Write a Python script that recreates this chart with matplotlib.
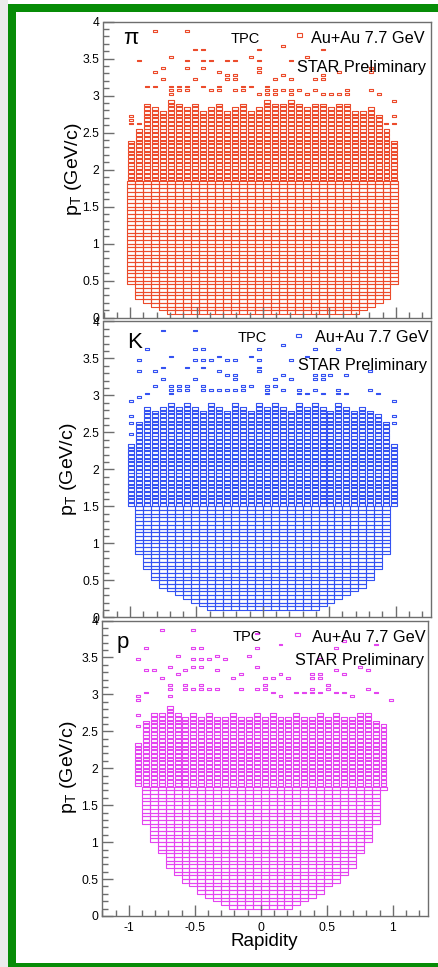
import numpy as np
import matplotlib
matplotlib.use("Agg")
import matplotlib.pyplot as plt
from matplotlib.patches import Rectangle
from matplotlib.collections import PatchCollection
from matplotlib.ticker import MultipleLocator, FuncFormatter

plt.rcParams["font.family"] = ["Liberation Sans", "DejaVu Sans"]
plt.rcParams["mathtext.fontset"] = "custom"
plt.rcParams["mathtext.rm"] = "Liberation Sans"

# ---------------- binning ----------------
Y_FIRST_EDGE = -1.02          # rapidity, 34 bins of 0.06
Y_BIN = 0.06
PT_BIN = 0.05                 # pT bins of 0.05 GeV/c
N_COL = 34

# ---------------- pions ----------------
pi_lo = [0.45, 0.25, 0.20, 0.15, 0.10, 0.05, 0.05, 0.05, 0.05, 0.05, 0.05, 0.05,
         0.05, 0.05, 0.05, 0.05, 0.05, 0.05, 0.05, 0.05, 0.05, 0.05, 0.05, 0.05,
         0.05, 0.05, 0.05, 0.05, 0.05, 0.10, 0.15, 0.20, 0.25, 0.45]
pi_top = [2.40, 2.55, 2.90, 2.85, 2.80, 2.95, 2.90, 2.85, 2.90, 2.80, 2.85, 2.90,
          2.80, 2.85, 2.90, 2.80, 2.85, 2.95, 2.90, 2.90, 2.95, 2.90, 2.85, 2.90,
          2.90, 2.85, 2.90, 2.90, 2.80, 2.80, 2.85, 2.75, 2.55, 2.40]
pi_core_top = 1.85
pi_sparse_col = [3, 7, 8, 9, 16, 19, 24, 22,
                 1, 5, 7, 7, 9, 9, 10, 12, 13, 15, 16, 16, 16, 20,
                 3, 4, 11, 12, 12, 13, 13, 19, 20, 23, 24, 24, 26, 30, 30,
                 2, 3, 4, 5, 5, 5, 6, 6, 7, 7, 8, 9, 10, 11, 11, 13, 14, 14, 15, 16,
                 17, 17, 17, 18, 18, 18, 19, 20, 20, 21, 22, 23, 24, 25, 26, 27, 27, 30, 31,
                 0, 0, 0, 1, 33, 33, 33, 32]
pi_sparse_pt = [3.87, 3.87, 3.63, 3.63, 3.63, 3.69, 3.63, 3.52,
                3.45, 3.52, 3.45, 3.39, 3.45, 3.39, 3.45, 3.45, 3.45, 3.52, 3.45, 3.39, 3.34, 3.45,
                3.33, 3.39, 3.33, 3.27, 3.21, 3.27, 3.21, 3.27, 3.21, 3.21, 3.27, 3.21, 3.33, 3.39, 3.33,
                3.15, 3.15, 3.21, 3.15, 3.08, 3.02, 3.15, 3.08, 3.15, 3.08, 3.21, 3.15, 3.08, 3.15, 3.08,
                3.08, 3.15, 3.08, 3.15, 3.02,
                3.15, 3.08, 3.02, 3.21, 3.08, 3.02, 3.08, 3.08, 3.02, 3.08, 3.02, 3.08, 3.02, 3.02, 3.02,
                3.08, 3.02, 3.08, 3.02,
                2.62, 2.68, 2.74, 2.62, 2.62, 2.72, 2.92, 2.62]

# ---------------- kaons ----------------
k_lo = [1.50, 0.85, 0.65, 0.50, 0.40, 0.35, 0.30, 0.25, 0.20, 0.15, 0.10, 0.10,
        0.10, 0.10, 0.10, 0.10, 0.10, 0.10, 0.10, 0.10, 0.10, 0.10, 0.10, 0.10,
        0.15, 0.20, 0.25, 0.30, 0.35, 0.40, 0.50, 0.65, 0.85, 1.50]
k_top = [2.35, 2.65, 2.85, 2.80, 2.85, 2.90, 2.85, 2.90, 2.85, 2.80, 2.90, 2.85,
         2.80, 2.90, 2.85, 2.80, 2.90, 2.85, 2.90, 2.85, 2.80, 2.90, 2.85, 2.90,
         2.85, 2.80, 2.90, 2.85, 2.80, 2.85, 2.80, 2.75, 2.65, 2.35]
k_core_top = 1.50
k_sparse_col = [4, 8, 2, 8, 9, 16, 19, 23, 26, 22,
                1, 5, 8, 9, 10, 11, 12, 13, 15, 16, 16, 16, 20,
                1, 3, 4, 7, 9, 11, 12, 13, 13, 18, 19, 20, 23, 23, 24, 24, 25, 27, 30,
                3, 4, 5, 5, 5, 6, 6, 7, 7, 8, 9, 9, 10, 11, 12, 13, 14, 14, 15, 17, 17, 17,
                18, 19, 21, 21, 22, 23, 24, 26, 26, 27, 30, 31,
                0, 1, 2, 0, 0, 0, 33, 33, 33]
k_sparse_pt = [3.87, 3.87, 3.63, 3.63, 3.63, 3.63, 3.69, 3.63, 3.63, 3.52,
               3.45, 3.52, 3.45, 3.45, 3.45, 3.52, 3.45, 3.45, 3.52, 3.45, 3.39, 3.33, 3.45,
               3.33, 3.33, 3.39, 3.39, 3.39, 3.33, 3.27, 3.27, 3.21, 3.21, 3.27, 3.21, 3.27, 3.21,
               3.27, 3.21, 3.27, 3.27, 3.33,
               3.15, 3.21, 3.15, 3.08, 3.02, 3.15, 3.08, 3.15, 3.08, 3.21, 3.15, 3.08, 3.08, 3.08,
               3.08, 3.08, 3.15, 3.08, 3.15, 3.15, 3.08, 3.02,
               3.15, 3.08, 3.08, 3.02, 3.02, 3.08, 3.02, 3.08, 3.02, 3.02, 3.08, 3.02,
               2.92, 2.96, 3.03, 2.47, 2.62, 2.72, 2.62, 2.72, 2.92]

# ---------------- protons ----------------
p_lo = [np.nan, 1.75, 1.25, 1.00, 0.85, 0.65, 0.55, 0.45, 0.40, 0.30, 0.25, 0.20,
        0.15, 0.10, 0.10, 0.10, 0.10, 0.10, 0.10, 0.10, 0.10, 0.15, 0.20, 0.25,
        0.30, 0.40, 0.45, 0.55, 0.65, 0.85, 1.00, 1.25, 1.70, np.nan]
p_top = [np.nan, 2.35, 2.65, 2.75, 2.75, 2.85, 2.75, 2.70, 2.75, 2.70, 2.75, 2.70,
         2.70, 2.75, 2.70, 2.70, 2.75, 2.70, 2.75, 2.70, 2.70, 2.75, 2.70, 2.70,
         2.75, 2.70, 2.75, 2.70, 2.70, 2.75, 2.75, 2.65, 2.60, np.nan]
p_core_top = 1.75
p_sparse_col = [4, 8, 16, 19, 27, 31,
                2, 8, 9, 16, 26,
                1, 5, 6, 8, 8, 9, 9, 10, 11, 12, 15, 16, 24, 29,
                2, 3, 6, 7, 11, 14, 19, 23, 23, 24, 24, 26, 27, 30,
                4, 5, 5, 7, 7, 8, 9, 9, 10, 11, 13, 14, 16, 17, 17, 17, 18, 20, 23, 25, 25, 30,
                1, 1, 1, 1, 2, 5, 18, 19, 21, 22, 23, 24, 26, 27, 28, 31, 33]
p_sparse_pt = [3.86, 3.86, 3.81, 3.68, 3.74, 3.68,
               3.63, 3.63, 3.63, 3.63, 3.63,
               3.45, 3.38, 3.50, 3.45, 3.38, 3.45, 3.38, 3.45, 3.50, 3.45, 3.50, 3.38, 3.45, 3.38,
               3.32, 3.32, 3.26, 3.32, 3.32, 3.27, 3.27, 3.27, 3.20, 3.27, 3.20, 3.32, 3.27, 3.32,
               3.20, 3.14, 3.09, 3.14, 3.09, 3.09, 3.14, 3.09, 3.09, 3.09, 3.20, 3.09, 3.09,
               3.20, 3.14, 3.09, 3.20, 3.20, 3.09, 3.14, 3.09, 3.09,
               2.58, 2.74, 2.91, 2.96, 3.03, 2.96, 3.03, 2.96, 3.03, 3.03, 3.03, 3.03, 3.03, 3.03,
               2.96, 3.03, 2.91]

# ---------------- panel layout (figure pixels) ----------------
W, H = 439, 967
fig = plt.figure(figsize=(W / 100, H / 100), dpi=100)


def fx(x):
    return x / W


def fy(y):
    return 1 - y / H


def add_axes_px(left, top, right, bottom):
    return fig.add_axes([fx(left), fy(bottom), (right - left) / W, (bottom - top) / H])


def fill_counts(lo, top, core_top, sp_col, sp_pt):
    """Build a (column, pT-bin) count map: 4 = core, 3 = upper band, 2 = isolated."""
    counts = np.zeros((N_COL, 80), dtype=int)
    for c in range(N_COL):
        if np.isnan(lo[c]):
            continue
        j0 = int(round(lo[c] / PT_BIN))
        j1 = int(round(top[c] / PT_BIN))
        for j in range(j0, j1):
            counts[c, j] = 4 if (j + 0.5) * PT_BIN < core_top else 3
    for c, pt in zip(sp_col, sp_pt):
        j = int(np.floor(pt / PT_BIN))
        if counts[c, j] == 0:
            counts[c, j] = 2
    return counts


def draw_boxes(ax, counts, color):
    boxes = []
    cmax = counts.max()
    for c in range(N_COL):
        for j in range(counts.shape[1]):
            n = counts[c, j]
            if n == 0:
                continue
            s = n / cmax
            xc = Y_FIRST_EDGE + (c + 0.5) * Y_BIN
            yc = (j + 0.5) * PT_BIN
            w, h = s * Y_BIN, s * PT_BIN
            boxes.append(Rectangle((xc - w / 2, yc - h / 2), w, h))
    pc = PatchCollection(boxes, facecolor="none", edgecolor=color, linewidths=0.8)
    ax.add_collection(pc)


def style_axes(ax, show_x):
    ax.set_xlim(-1.2, 1.265)
    ax.set_ylim(0, 4)
    ax.xaxis.set_major_locator(MultipleLocator(0.5))
    ax.xaxis.set_minor_locator(MultipleLocator(0.1))
    ax.yaxis.set_major_locator(MultipleLocator(0.5))
    ax.yaxis.set_minor_locator(MultipleLocator(0.1))
    fmt = FuncFormatter(lambda v, p: "%g" % v)
    ax.xaxis.set_major_formatter(fmt)
    ax.yaxis.set_major_formatter(fmt)
    ax.tick_params(which="both", direction="in", top=False, right=False,
                   color="#6e6e6e", width=1.0, labelsize=8.7, labelcolor="black")
    ax.tick_params(which="major", length=8, pad=3)
    ax.tick_params(which="minor", length=4)
    ax.tick_params(axis="x", labelbottom=show_x, pad=4)
    for sp in ax.spines.values():
        sp.set_color("#6e6e6e")
        sp.set_linewidth(1.0)


panels = [
    dict(rect=(103.5, 21.7, 431.0, 317.7), lo=pi_lo, top=pi_top, core=pi_core_top,
         sc=pi_sparse_col, sp=pi_sparse_pt, color="#ec4b2b", name="\u03c0",
         name_xy=(123, 43.5), tpc_xy=(245.5, 42.7), mark_xy=(299.5, 35.0),
         au_xy=(311, 42.7), star_xy=(297, 71.7), ylab_xy=(73.5, 169), show_x=False),
    dict(rect=(103.5, 321.3, 430.7, 617.3), lo=k_lo, top=k_top, core=k_core_top,
         sc=k_sparse_col, sp=k_sparse_pt, color="#3452f2", name="K",
         name_xy=(127, 348), tpc_xy=(252.5, 341.7), mark_xy=(298.5, 335.7),
         au_xy=(315, 341.7), star_xy=(298, 370), ylab_xy=(68.5, 469), show_x=False),
    dict(rect=(102.3, 620.5, 427.7, 916.0), lo=p_lo, top=p_top, core=p_core_top,
         sc=p_sparse_col, sp=p_sparse_pt, color="#e444f0", name="p",
         name_xy=(117, 648), tpc_xy=(247.5, 640.7), mark_xy=(297.5, 634.0),
         au_xy=(312, 641.5), star_xy=(295, 665), ylab_xy=(68.5, 767), show_x=True),
]

for P in panels:
    ax = add_axes_px(*P["rect"])
    style_axes(ax, P["show_x"])
    counts = fill_counts(P["lo"], P["top"], P["core"], P["sc"], P["sp"])
    draw_boxes(ax, counts, P["color"])

    fig.text(fx(P["name_xy"][0]), fy(P["name_xy"][1]), P["name"], fontsize=16,
             ha="left", va="baseline")
    fig.text(fx(P["tpc_xy"][0]), fy(P["tpc_xy"][1]), "TPC", fontsize=10.5,
             ha="center", va="baseline")
    mx, my = P["mark_xy"]
    fig.add_artist(Rectangle((fx(mx - 2.5), fy(my + 1.5)), 5 / W, 3 / H,
                             transform=fig.transFigure, facecolor="none",
                             edgecolor=P["color"], linewidth=0.8))
    fig.text(fx(P["au_xy"][0]), fy(P["au_xy"][1]), "Au+Au 7.7 GeV", fontsize=11.7,
             ha="left", va="baseline")
    fig.text(fx(P["star_xy"][0]), fy(P["star_xy"][1]), "STAR Preliminary", fontsize=11.7,
             ha="left", va="baseline")
    fig.text(fx(P["ylab_xy"][0]), fy(P["ylab_xy"][1]), r"p$_\mathregular{T}$ (GeV/c)",
             fontsize=14, rotation=90, ha="center", va="center")

fig.text(fx(264), fy(941), "Rapidity", fontsize=13.6, ha="center", va="center")

# ---------------- outer frame ----------------
GREEN = "#078c07"
fig.add_artist(Rectangle((0, 0), fx(8), 1, transform=fig.transFigure,
                         facecolor="#ebebeb", edgecolor="none", zorder=-1))
fig.add_artist(Rectangle((fx(8), 0), fx(8), fy(4), transform=fig.transFigure,
                         facecolor=GREEN, edgecolor="none"))
fig.add_artist(Rectangle((fx(8), fy(12)), 1, 8 / H, transform=fig.transFigure,
                         facecolor=GREEN, edgecolor="none"))
fig.add_artist(Rectangle((fx(8), 0), 1, 4 / H, transform=fig.transFigure,
                         facecolor=GREEN, edgecolor="none"))

fig.savefig("out.png", dpi=100)
